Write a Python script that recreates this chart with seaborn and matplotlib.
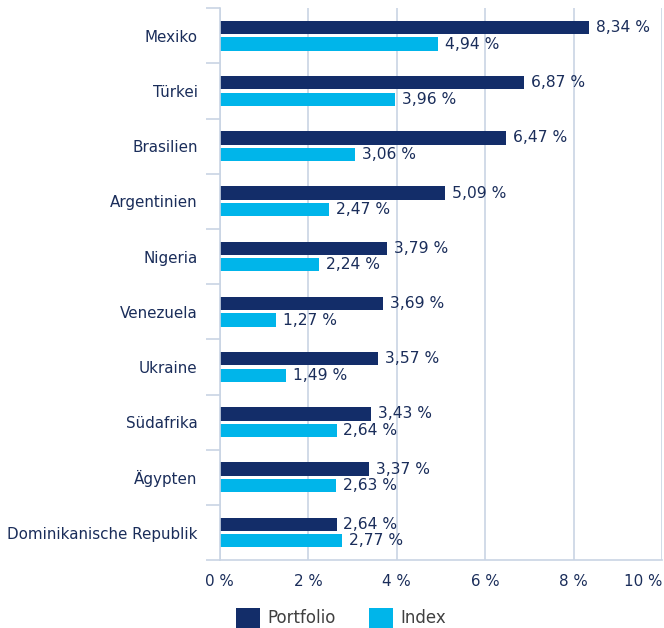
import pandas as pd
import numpy as np
import matplotlib
matplotlib.use('Agg')
import matplotlib.pyplot as plt
import seaborn as sns
from matplotlib.ticker import FuncFormatter, FixedLocator

countries = ['Mexiko', 'Türkei', 'Brasilien', 'Argentinien', 'Nigeria',
             'Venezuela', 'Ukraine', 'Südafrika', 'Ägypten', 'Dominikanische Republik']
portfolio = [8.34, 6.87, 6.47, 5.09, 3.79, 3.69, 3.57, 3.43, 3.37, 2.64]
index_vals = [4.94, 3.96, 3.06, 2.47, 2.24, 1.27, 1.49, 2.64, 2.63, 2.77]
series = ['Portfolio', 'Index']
x_ticks = [0, 2, 4, 6, 8, 10]

NAVY = '#132d69'
CYAN = '#00b5ea'
GRID = '#c9d4e4'
TEXT = '#1a2d5a'

df = pd.DataFrame({
    'country': countries * 2,
    'value': portfolio + index_vals,
    'series': [series[0]] * len(countries) + [series[1]] * len(countries),
})

sns.set_style('white')
plt.rcParams['font.family'] = ['DejaVu Sans']

fig = plt.figure(figsize=(6.64, 6.28), dpi=100)
ax = fig.add_axes([0.331, 0.108, 0.666, 0.879])

sns.barplot(data=df, y='country', x='value', hue='series', order=countries,
            hue_order=series, palette=[NAVY, CYAN], orient='h',
            width=0.6, gap=0.2, linewidth=0, ax=ax, legend=True, saturation=1)

ax.set_xlim(0, 10)
ax.set_ylim(len(countries) - 0.5, -0.5)
ax.xaxis.set_major_locator(FixedLocator(x_ticks))
ax.xaxis.set_major_formatter(FuncFormatter(lambda v, p: f'{v:.0f} %'))
ax.grid(axis='x', color=GRID, linewidth=1.2)
ax.set_axisbelow(True)
ax.set_xlabel('')
ax.set_ylabel('')

for s in ['top', 'right']:
    ax.spines[s].set_visible(False)
for s in ['left', 'bottom']:
    ax.spines[s].set_color(GRID)
    ax.spines[s].set_linewidth(1.2)

# tick marks between categories
ax.yaxis.set_minor_locator(FixedLocator(np.arange(-0.5, len(countries), 1.0)))
ax.tick_params(axis='y', which='minor', length=10, width=1.2, color=GRID, left=True)
ax.tick_params(axis='y', which='major', length=0, pad=16, labelsize=10.9, labelcolor=TEXT)
ax.tick_params(axis='x', which='major', length=0, pad=10, labelsize=10.9, labelcolor=TEXT)
ax.get_xticklabels()[-1].set_horizontalalignment('right')

for cont in ax.containers:
    ax.bar_label(cont, labels=[f'{v:.2f}'.replace('.', ',') + ' %' for v in cont.datavalues],
                 padding=5, fontsize=11.2, color=TEXT)

handles, labels = ax.get_legend_handles_labels()
ax.get_legend().remove()
fig.legend(handles, labels, loc='center left', bbox_to_anchor=(0.355, 0.016),
           bbox_transform=fig.transFigure, ncol=2, frameon=False, fontsize=12,
           labelcolor='#404040', borderpad=0, borderaxespad=0,
           handlelength=1.45, handleheight=1.5, columnspacing=2.0, handletextpad=0.45)

fig.savefig('out.png', dpi=100)
